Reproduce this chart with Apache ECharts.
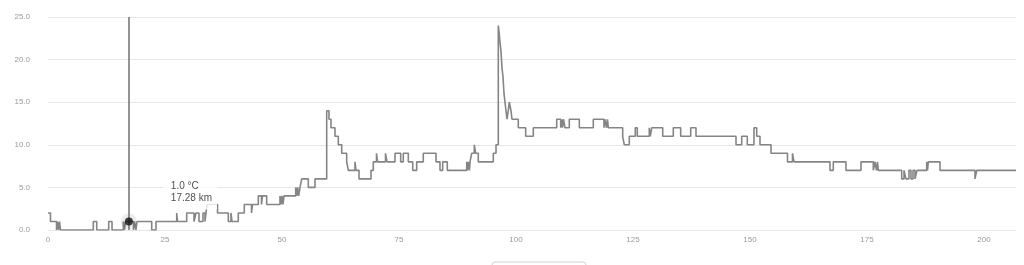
<!DOCTYPE html>
<html>
<head>
<meta charset="utf-8">
<script src="https://cdn.jsdelivr.net/npm/echarts@6/dist/echarts.min.js"></script>
<style>
html,body{margin:0;padding:0;background:#fff;}
#c{width:1024px;height:265px;}
</style>
</head>
<body>
<div id="c"></div>
<script>
// Distance (km) where the temperature changes, and the temperature (°C) from that point on
const distKm = [0,0.53,1.82,2.03,2.24,2.46,2.67,9.68,10.41,12.97,13.68,16.09,16.35,16.56,18.27,18.48,18.80,19.02,22.16,23.08,
27.50,27.67,29.64,31.20,31.62,32.26,33.12,33.55,33.97,36.22,38.53,39.10,39.32,40.66,41.94,43.48,43.70,44.94,45.62,45.83,
46.73,49.57,49.79,50.00,50.21,50.43,52.93,53.14,53.35,53.57,53.85,54.21,55.62,57.05,59.55,60.04,60.47,61.32,62.03,62.76,
63.82,64.17,65.60,65.81,66.45,69.02,69.51,70.19,70.41,72.12,72.44,74.15,75.36,75.92,76.99,77.93,78.78,80.19,82.91,83.76,
84.34,85.32,89.47,89.64,89.85,90.06,90.17,90.53,91.09,91.39,91.94,95.15,95.73,96.22,96.43,96.58,96.79,97.01,97.22,97.44,
97.65,97.86,98.08,98.35,98.57,98.93,99.15,100.49,102.07,103.70,108.70,109.55,109.76,109.94,110.15,110.47,111.39,113.53,116.52,118.80,
119.02,119.34,119.55,119.72,122.80,123.14,124.21,125.49,125.92,128.48,128.70,129.00,131.35,133.61,135.19,137.33,138.46,147.01,148.23,149.42,
150.85,151.43,152.14,154.49,158.01,159.08,159.40,167.09,167.80,170.51,173.72,176.35,176.71,177.03,177.24,177.41,182.41,182.91,183.33,183.97,
184.40,184.83,185.26,185.68,187.76,187.93,188.10,190.60,198.08,198.44,206.84];
const tempC = [2,1,0,1,0,1,0,1,0,1,0,1,0,1,0,1,0,1,0,1,
2,1,2,1,2,1,2,1,3,2,1,2,1,2,3,2,3,4,3,4,
3,4,3,4,3,4,5,4,5,4,5,6,5,6,14,13,12,11,10,9,
8,7,8,7,6,7,8,9,8,9,8,9,8,9,8,7,8,9,8,7,
8,7,8,7,8,7,8,9,10,9,8,9,10,24,23,22,21,19,18,16,
15,14,13,14,15,14,13,12,11,12,13,12,13,12,13,12,13,12,13,12,
13,12,13,12,11,10,11,12,11,12,11,12,11,12,11,12,11,10,11,10,
12,11,10,9,8,9,8,7,8,7,8,7,8,7,8,7,6,7,6,7,
6,7,6,7,8,7,8,7,6,7,7];

// Highlighted reading
const pointKm = 17.28;
const pointTemp = 1.0;

const xTicks = {min: 0, interval: 25};
const yTicks = {min: 0, max: 25, interval: 5};

const lineData = distKm.map((d, i) => [d, tempC[i]]);

const chart = echarts.init(document.getElementById('c'), null, {renderer: 'canvas'});
chart.setOption({
  animation: false,
  backgroundColor: '#fff',
  grid: {left: 48, right: 8, top: 17, bottom: 35, containLabel: false, outerBoundsMode: 'none'},
  xAxis: {
    type: 'value',
    min: xTicks.min,
    max: 'dataMax',
    interval: xTicks.interval,
    axisLine: {show: false},
    axisTick: {show: false},
    splitLine: {show: false},
    axisLabel: {color: '#999', fontSize: 8, fontFamily: 'Liberation Sans, Arial, sans-serif', margin: 6,
      showMaxLabel: false}
  },
  yAxis: {
    type: 'value',
    min: yTicks.min,
    max: yTicks.max,
    interval: yTicks.interval,
    axisLine: {show: false},
    axisTick: {show: false},
    splitLine: {lineStyle: {color: '#e6e6e6', width: 1}},
    axisLabel: {color: '#999', fontSize: 8, fontFamily: 'Liberation Sans, Arial, sans-serif', margin: 18,
      formatter: v => v.toFixed(1)}
  },
  series: [
    {
      type: 'line',
      step: 'end',
      data: lineData,
      showSymbol: false,
      lineStyle: {color: '#858585', width: 1.6},
      z: 2
    },
    {
      type: 'scatter',
      data: [[pointKm, pointTemp]],
      symbolSize: 16,
      itemStyle: {color: 'rgba(0,0,0,0.09)'},
      silent: true,
      z: 3,
      markLine: {
        silent: true,
        symbol: 'none',
        label: {show: false},
        lineStyle: {color: '#707070', width: 1.5, type: 'solid'},
        data: [{xAxis: pointKm}]
      }
    },
    {
      type: 'scatter',
      data: [[pointKm, pointTemp]],
      symbolSize: 8,
      itemStyle: {color: '#111'},
      z: 5,
      label: {
        show: true,
        position: [38, -41],
        formatter: p => p.value[1].toFixed(1) + ' °C\n' + p.value[0].toFixed(2) + ' km',
        color: '#222',
        fontSize: 10,
        lineHeight: 12,
        fontFamily: 'Liberation Sans, Arial, sans-serif',
        backgroundColor: '#fff',
        padding: [4, 5, 5, 8],
        align: 'left'
      }
    }
  ],
  graphic: [
    {
      type: 'rect',
      shape: {x: 492, y: 262, width: 94, height: 20, r: 3},
      style: {fill: '#fff', stroke: '#d0d0d0', lineWidth: 1}
    }
  ]
});
</script>
</body>
</html>
